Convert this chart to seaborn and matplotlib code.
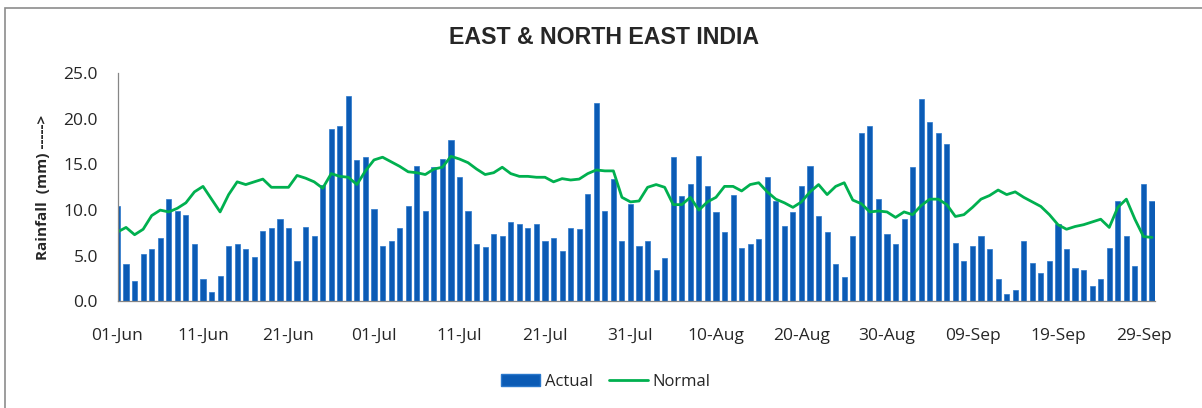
import matplotlib
matplotlib.use("Agg")
import matplotlib.pyplot as plt
from matplotlib.patches import Patch, Rectangle
from matplotlib.lines import Line2D
import numpy as np
import pandas as pd
import seaborn as sns

# daily rainfall (mm), 01-Jun .. 30-Sep
actual = [
    10.4, 4.1, 2.2, 5.2, 5.7, 6.9, 11.2, 9.9, 9.5, 6.3,
    2.5, 1.0, 2.8, 6.1, 6.3, 5.7, 4.9, 7.7, 8.0, 9.0,
    8.0, 4.4, 8.2, 7.2, 12.7, 18.9, 19.2, 22.5, 15.5, 15.8,
    10.1, 6.1, 6.6, 8.0, 10.5, 14.8, 9.9, 14.7, 15.6, 17.7,
    13.6, 9.9, 6.3, 6.0, 7.4, 7.2, 8.7, 8.5, 8.0, 8.5,
    6.6, 6.9, 5.5, 8.0, 7.9, 11.8, 21.7, 9.9, 13.4, 6.6,
    10.7, 6.1, 6.6, 3.4, 4.7, 15.8, 11.5, 12.9, 15.9, 12.6,
    9.8, 7.6, 11.7, 5.8, 6.3, 6.8, 13.6, 11.0, 8.3, 9.8,
    12.6, 14.8, 9.4, 7.6, 4.1, 2.7, 7.2, 18.5, 19.2, 11.2,
    7.4, 6.3, 9.0, 14.7, 22.2, 19.7, 18.5, 17.2, 6.4, 4.4,
    6.1, 7.2, 5.7, 2.5, 0.8, 1.2, 6.6, 4.2, 3.1, 4.4,
    8.5, 5.7, 3.6, 3.4, 1.7, 2.5, 5.8, 11.0, 7.2, 3.9,
    12.9, 11.0,
]

normal = [
    7.6, 8.1, 7.3, 7.9, 9.4, 10.0, 9.8, 10.2, 10.8, 12.0,
    12.6, 11.2, 9.8, 11.7, 13.1, 12.8, 13.1, 13.4, 12.5, 12.5,
    12.5, 13.8, 13.5, 13.1, 12.4, 14.0, 13.7, 13.6, 12.8, 14.3,
    15.5, 15.8, 15.3, 14.8, 14.2, 14.1, 13.9, 14.5, 14.7, 15.9,
    15.6, 15.2, 14.5, 13.9, 14.1, 14.7, 14.0, 13.7, 13.7, 13.6,
    13.6, 13.1, 13.45, 13.3, 13.4, 14.0, 14.4, 14.3, 14.3, 11.4,
    10.9, 11.0, 12.5, 12.8, 12.5, 10.6, 10.6, 11.4, 10.0, 10.9,
    11.4, 12.6, 12.6, 12.1, 12.8, 13.0, 12.0, 11.2, 10.8, 10.3,
    10.9, 12.0, 12.8, 11.7, 12.6, 13.0, 11.1, 10.7, 9.8, 9.9,
    9.8, 9.2, 9.8, 9.5, 10.5, 11.2, 11.2, 10.6, 9.3, 9.5,
    10.3, 11.2, 11.6, 12.2, 11.7, 12.0, 11.4, 10.9, 10.4, 9.5,
    8.4, 7.9, 8.2, 8.4, 8.7, 9.0, 8.1, 10.3, 11.2, 9.0,
    7.1, 7.0,
]

tick_labels = ["01-Jun", "11-Jun", "21-Jun", "01-Jul", "11-Jul", "21-Jul", "31-Jul",
               "10-Aug", "20-Aug", "30-Aug", "09-Sep", "19-Sep", "29-Sep"]

df = pd.DataFrame({"day": np.arange(len(actual)), "actual": actual, "normal": normal})

bar_color = "#0B5BB5"
line_color = "#00B04F"
label_font = ["Open Sans", "DejaVu Sans"]

sns.set_style("white")
fig = plt.figure(figsize=(12.02, 4.08), dpi=100)
ax = fig.add_axes([117.5 / 1202, 1 - 301.3 / 408, (1155 - 117.5) / 1202, (301.3 - 73.3) / 408])

sns.barplot(data=df, x="day", y="actual", native_scale=True, width=0.6,
            color=bar_color, edgecolor="#2A78CC", linewidth=0.5, saturation=1, ax=ax)
sns.lineplot(data=df, x="day", y="normal", color=line_color, linewidth=2.0, ax=ax)

ax.set_xlim(0, 121.35)
ax.set_ylim(0, 25)
ax.set_yticks(np.arange(0, 25.1, 5))
ax.set_yticklabels([f"{v:.1f}" for v in np.arange(0, 25.1, 5)], fontsize=12.5, family=label_font)
ax.set_xticks(np.arange(0, 121, 10))
ax.set_xticklabels(tick_labels, fontsize=12.5, family=label_font)
ax.tick_params(axis="both", direction="out", length=4, width=0.8, color="#868686")
ax.tick_params(axis="y", pad=10)
ax.tick_params(axis="x", pad=15)
ax.set_xlabel("")
ax.set_ylabel("Rainfall  (mm) ----->", fontsize=11, fontweight="bold", family=label_font)
ax.yaxis.set_label_coords((50 - 117.5) / 1037.5, 0.5)

for side in ["top", "right"]:
    ax.spines[side].set_visible(False)
for side in ["left", "bottom"]:
    ax.spines[side].set_color("#868686")
    ax.spines[side].set_linewidth(0.9)

fig.text(604 / 1202, 1 - 37 / 408, "EAST & NORTH EAST INDIA", ha="center", va="center",
         fontsize=16.7, fontweight="bold", family=["Liberation Sans", "DejaVu Sans"])

handles = [Patch(facecolor=bar_color, edgecolor="#2A78CC"),
           Line2D([0], [0], color=line_color, linewidth=2.0)]
fig.legend(handles, ["Actual", "Normal"], loc="center", bbox_to_anchor=(606 / 1202, 1 - 382 / 408),
           ncol=2, frameon=False, prop={"family": label_font, "size": 12},
           handlelength=2.3, handletextpad=0.3, columnspacing=1.0)

# outer chart border
fig.add_artist(Rectangle((5 / 1202, -0.1), 1.2, 1 - 8 / 408 + 0.1, transform=fig.transFigure,
                         fill=False, edgecolor="#8C8C8C", linewidth=1.2))

fig.savefig("out.png", dpi=100)
